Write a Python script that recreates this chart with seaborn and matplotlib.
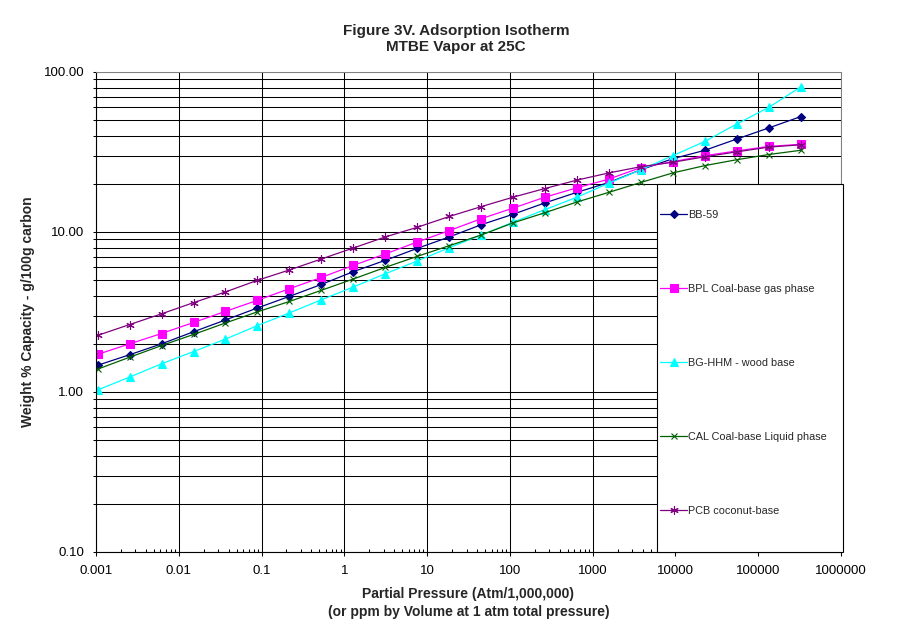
import matplotlib
matplotlib.use('Agg')
import matplotlib.pyplot as plt
import matplotlib.ticker as mticker
from matplotlib.patches import Rectangle
import seaborn as sns

# Partial pressure (ppm) shared by all carbons
pressure = [0.00105, 0.00255, 0.00619, 0.0151, 0.0366, 0.0891, 0.217, 0.527,
            1.28, 3.12, 7.59, 18.5, 44.9, 109, 265, 646, 1570, 3820, 9290,
            22600, 55000, 134000, 325000]

# Weight % capacity, g/100g carbon
bb59 = [1.47, 1.71, 2.00, 2.38, 2.82, 3.35, 3.96, 4.70, 5.65, 6.65, 7.90, 9.31,
        11.1, 12.9, 15.2, 17.7, 20.4, 24.5, 28.7, 32.4, 38.1, 44.7, 52.6]
bpl = [1.72, 2.00, 2.32, 2.72, 3.19, 3.74, 4.42, 5.20, 6.18, 7.29, 8.66, 10.2,
       12.1, 14.1, 16.5, 18.9, 21.4, 25.3, 27.5, 30.0, 32.1, 34.3, 35.3]
bg_hhm = [1.03, 1.24, 1.50, 1.79, 2.14, 2.60, 3.12, 3.77, 4.53, 5.48, 6.59, 7.98,
          9.57, 11.5, 13.8, 16.5, 20.2, 24.5, 30.0, 36.8, 47.3, 60.1, 80.6]
cal = [1.39, 1.65, 1.95, 2.29, 2.70, 3.17, 3.68, 4.32, 5.08, 6.01, 7.04, 8.21,
       9.57, 11.4, 13.2, 15.4, 17.7, 20.4, 23.4, 26.0, 28.3, 30.5, 32.4]
pcb = [2.26, 2.64, 3.08, 3.62, 4.22, 4.99, 5.79, 6.78, 7.94, 9.31, 10.7, 12.5,
       14.4, 16.5, 18.7, 21.1, 23.4, 25.6, 27.3, 29.5, 31.7, 33.9, 35.1]

series_names = ['BB-59', 'BPL Coal-base gas phase', 'BG-HHM - wood base',
                'CAL Coal-base Liquid phase', 'PCB coconut-base']
series_values = [bb59, bpl, bg_hhm, cal, pcb]

x_ticks = [0.001, 0.01, 0.1, 1, 10, 100, 1000, 10000, 100000, 1000000]
x_tick_labels = ['0.001', '0.01', '0.1', '1', '10', '100', '1000', '10000',
                 '100000', '1000000']
y_ticks = [0.1, 1, 10, 100]
y_tick_labels = ['0.10', '1.00', '10.00', '100.00']

sns.set_style('white')
plt.rcParams['font.family'] = ['Liberation Sans', 'DejaVu Sans']

fig = plt.figure(figsize=(9.12, 6.23), dpi=100)
ax = fig.add_axes([96 / 912, 1 - 552 / 623, 745 / 912, 480 / 623])

# line styles per series (Excel-like)
styles = [
    dict(color='#000080', marker='D', ms=3.6, mfc='#000080'),
    dict(color='#FF00FF', marker='s', ms=5.3, mfc='#FF00FF'),
    dict(color='#00FFFF', marker='^', ms=5.3, mfc='#00FFFF'),
    dict(color='#006000', marker='x', ms=5.0, mfc='none'),
    dict(color='#800080', marker=(6, 2, 0), ms=6.0, mfc='none'),
]

for name, vals, st in zip(series_names, series_values, styles):
    sns.lineplot(x=pressure, y=vals, ax=ax, label=name, color=st['color'],
                 marker=st['marker'], markersize=st['ms'],
                 markerfacecolor=st['mfc'], markeredgecolor=st['color'],
                 markeredgewidth=0.8, linewidth=0.9)

ax.set_xscale('log')
ax.set_yscale('log')
ax.set_xlim(0.001, 1000000)
ax.set_ylim(0.1, 100)

ax.xaxis.set_major_locator(mticker.FixedLocator(x_ticks))
ax.xaxis.set_major_formatter(mticker.FixedFormatter(x_tick_labels))
ax.xaxis.set_minor_locator(mticker.LogLocator(base=10, subs=range(2, 10), numticks=20))
ax.xaxis.set_minor_formatter(mticker.NullFormatter())
ax.yaxis.set_major_locator(mticker.FixedLocator(y_ticks))
ax.yaxis.set_major_formatter(mticker.FixedFormatter(y_tick_labels))
ax.yaxis.set_minor_locator(mticker.LogLocator(base=10, subs=range(2, 10), numticks=20))
ax.yaxis.set_minor_formatter(mticker.NullFormatter())

ax.grid(which='major', axis='both', color='black', linewidth=0.75)
ax.grid(which='minor', axis='y', color='black', linewidth=0.75)
ax.set_axisbelow(True)

ax.tick_params(axis='x', which='major', direction='out', length=3, width=0.75,
               pad=6.5, labelsize=9.5, bottom=True, colors='black')
ax.tick_params(axis='x', which='minor', direction='in', length=2.2, width=0.75,
               bottom=True, colors='black')
ax.tick_params(axis='y', which='major', direction='out', length=2.5, width=0.75,
               pad=6, labelsize=9.5, left=True, colors='black')
ax.tick_params(axis='y', which='minor', direction='out', length=2.5, width=0.75,
               left=True, colors='black')

for side in ['left', 'bottom']:
    ax.spines[side].set_color('black')
    ax.spines[side].set_linewidth(0.8)
for side in ['top', 'right']:
    ax.spines[side].set_color('#808080')
    ax.spines[side].set_linewidth(0.75)

# Legend box sits over the lower right of the plot area
ax.add_patch(Rectangle((0.753, 0), 0.2497, 0.7667, transform=ax.transAxes,
                       facecolor='white', edgecolor='black', linewidth=0.8,
                       clip_on=False, zorder=3))
handles, labels = ax.get_legend_handles_labels()
leg = ax.legend(handles, labels, loc='upper left', bbox_to_anchor=(0.757, 0.7125),
                frameon=False, fontsize=7.8, labelspacing=5.9, handlelength=2.5,
                handletextpad=0.12, borderpad=0, borderaxespad=0)
leg.set_zorder(5)

fig.suptitle('Figure 3V. Adsorption Isotherm\nMTBE Vapor at 25C', x=0.5, y=0.962,
             va='top', fontsize=11, fontweight='bold', linespacing=1.2)
ax.set_xlabel('Partial Pressure (Atm/1,000,000)\n(or ppm by Volume at 1 atm total pressure)',
              fontsize=10, fontweight='bold', linespacing=1.35)
ax.xaxis.set_label_coords(0.5, -0.073)
ax.set_ylabel('Weight % Capacity - g/100g carbon', fontsize=10, fontweight='bold')
ax.yaxis.set_label_coords(-0.082, 0.5)

fig.savefig('out.png', dpi=100)
